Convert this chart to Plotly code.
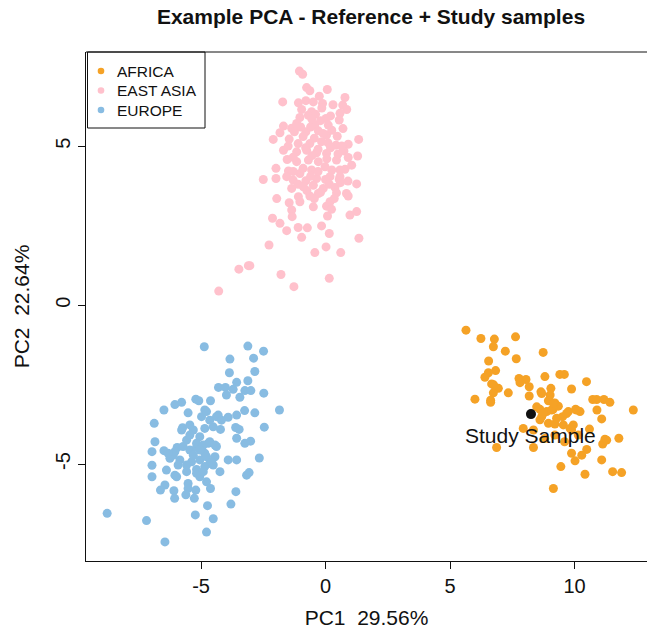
import plotly.graph_objects as go

# ---------------- data ----------------
africa_x = [5.64, 6.24, 6.78, 7.63, 6.74, 7.22, 8.74, 7.66, 6.55, 6.83, 6.54, 6.40, 7.77, 8.05, 8.81,
            9.41, 9.59, 10.48, 6.67, 6.94, 6.74, 7.34, 7.81, 8.18, 8.65, 9.05, 9.88, 8.18, 9.02, 6.00,
            6.63, 8.95, 9.21, 9.35, 10.73, 10.89, 11.18, 11.42, 12.36, 8.61, 8.88, 9.14, 9.52, 9.75,
            10.04, 10.22, 11.09, 8.68, 8.95, 9.21, 9.55, 9.95, 9.88, 10.15, 7.94, 8.35, 9.21, 11.22,
            11.78, 11.13, 6.87, 8.35, 10.49, 9.88, 10.29, 10.02, 11.09, 9.45, 11.53, 11.89, 10.42,
            9.15, 8.74, 9.08, 8.48, 9.68, 8.61, 9.28, 9.82, 11.29, 10.60, 9.60, 8.80, 10.90, 6.75,
            6.63, 8.68, 9.15, 10.08]
africa_y = [-0.79, -1.05, -1.07, -1.00, -1.31, -1.45, -1.49, -1.69, -1.76, -2.06, -2.13, -2.27, -2.31,
            -2.34, -2.25, -2.18, -2.18, -2.41, -2.48, -2.62, -2.76, -2.76, -2.44, -2.57, -2.73, -2.62,
            -2.64, -2.86, -2.83, -2.96, -2.99, -3.01, -3.08, -3.18, -2.97, -2.97, -2.97, -3.06, -3.30,
            -3.28, -3.35, -3.28, -3.51, -3.35, -3.28, -3.35, -3.58, -3.51, -3.72, -3.74, -3.77, -3.77,
            -3.93, -4.09, -3.88, -3.93, -4.09, -4.22, -4.19, -4.37, -4.48, -4.48, -4.54, -4.66, -4.72,
            -4.90, -4.87, -5.08, -5.24, -5.27, -5.32, -5.77, -3.41, -3.30, -3.20, -3.41, -3.61, -3.56,
            -3.88, -4.25, -3.90, -4.30, -4.20, -3.30, -2.51, -3.06, -2.78, -3.09, -3.30]

east_asia_x = [-1.05, -0.92, -0.76, -0.63, 0.07, -0.25, 0.78, -1.72, -1.09, -0.79, -0.49, -0.12, 0.69,
               0.85, -0.96, -0.56, 0.58, -1.03, -0.69, 0.02, 0.55, -1.69, -1.36, -1.16, -0.43, 0.11,
               -1.83, -1.46, -2.10, -0.79, -0.29, 0.04, 0.47, 1.33, 0.91, -1.10, -0.63, -0.16, -1.69,
               0.42, 0.74, -1.16, -0.76, -0.36, 0.04, 1.29, 0.91, 0.44, -1.54, -1.16, -0.69, -0.29,
               -1.99, -1.49, -1.03, -0.56, -0.02, 0.58, 0.78, -2.50, -1.99, -1.56, -1.30, -0.79, -0.36,
               0.18, 0.58, -1.36, -0.89, -0.49, -0.09, 0.38, 1.25, 0.44, 0.84, 0.91, -1.96, -1.09,
               -0.63, -0.29, -1.46, -1.03, -0.49, 0.04, 0.18, 0.24, -1.36, -1.34, -2.13, -1.83, -1.56,
               -1.10, -0.73, -0.96, -0.16, 0.15, 0.08, 0.98, 1.25, 1.34, -2.27, 0.02, -0.43, 0.61,
               -3.48, -3.10, -3.04, -1.79, 0.15, -1.27, -4.29,
               -0.40, -0.20, 0.20, -0.60, -0.10, 0.25, -0.90, -0.45, 0.10, -0.80, -0.30, 0.20, -0.55,
               0.05, 0.50, -1.30, -0.90, -0.30, 0.25, -0.60, 0.00, -1.10, 0.60, -0.20, 0.15, -0.75,
               0.35, -0.45, 0.55, -0.15, 0.30, -0.55, -1.25, 0.70, 0.65, -1.00, -1.50, -1.30, 1.05,
               0.90]
east_asia_y = [7.36, 7.26, 6.84, 6.74, 6.78, 6.57, 6.53, 6.39, 6.36, 6.43, 6.39, 6.34, 6.29, 6.15, 6.15,
               6.08, 6.03, 5.90, 5.97, 5.87, 5.82, 5.63, 5.56, 5.71, 5.66, 5.66, 5.42, 5.22, 5.21, 5.45,
               5.48, 5.35, 5.31, 5.21, 5.06, 5.08, 5.08, 5.14, 4.87, 5.03, 4.85, 4.82, 4.87, 4.79, 4.77,
               4.69, 4.64, 4.56, 4.58, 4.51, 4.56, 4.51, 4.30, 4.22, 4.14, 4.25, 4.35, 4.25, 4.27, 3.95,
               3.98, 4.04, 3.93, 3.91, 3.98, 4.04, 4.04, 3.67, 3.72, 3.77, 3.67, 3.70, 3.81, 3.53, 3.51,
               3.43, 3.35, 3.41, 3.43, 3.51, 3.22, 3.25, 3.09, 3.11, 3.25, 3.01, 2.99, 2.78, 2.73, 2.57,
               2.34, 2.44, 2.43, 2.13, 2.49, 2.25, 2.80, 2.83, 2.94, 2.10, 1.89, 1.83, 1.65, 1.65, 1.13,
               1.24, 1.24, 0.96, 0.84, 0.58, 0.44,
               6.00, 5.80, 5.95, 5.60, 5.40, 5.50, 5.30, 5.25, 5.10, 4.95, 4.90, 4.95, 4.70, 4.60, 4.75,
               4.65, 4.30, 4.20, 4.25, 4.05, 3.95, 3.80, 3.85, 3.55, 3.80, 3.60, 3.35, 3.35, 3.95, 6.20,
               6.30, 5.85, 5.45, 5.55, 5.00, 5.60, 5.00, 4.20, 4.40, 3.90]

europe_x = [-4.87, -3.12, -2.49, -3.84, -2.89, -3.86, -2.84, -3.57, -3.12, -4.30, -4.02, -3.71, -3.98,
            -3.24, -3.00, -3.44, -2.48, -1.85, -6.05, -5.78, -5.21, -5.09, -4.62, -6.49, -5.52, -4.85,
            -4.31, -3.91, -3.57, -3.25, -2.84, -6.88, -5.74, -5.31, -4.85, -4.51, -4.22, -3.61, -3.47,
            -2.46, -6.85, -5.58, -5.05, -4.71, -4.38, -3.57, -3.24, -3.01, -6.97, -6.49, -5.96, -5.45,
            -5.18, -4.85, -4.44, -6.25, -5.85, -5.38, -5.05, -4.65, -3.91, -3.57, -2.66, -6.97, -6.39,
            -6.05, -5.58, -5.18, -4.85, -4.51, -4.24, -6.97, -6.45, -5.98, -5.52, -5.05, -4.78, -3.17,
            -3.07, -6.63, -6.09, -5.52, -5.21, -4.62, -3.60, -6.06, -5.61, -5.27, -4.74, -3.80, -8.77,
            -7.19, -5.23, -4.51, -4.78, -6.45,
            -5.78, -5.45, -5.18, -4.91, -4.65, -4.44, -5.31, -5.05, -4.78, -4.58, -5.72, -6.05, -5.92,
            -5.58, -5.18, -4.91, -4.65, -4.98, -4.78, -4.38, -4.18, -5.45, -6.12, -6.32]
europe_y = [-1.31, -1.29, -1.45, -1.70, -1.67, -2.13, -2.09, -2.43, -2.38, -2.59, -2.59, -2.65, -2.83,
            -2.69, -2.69, -2.90, -2.77, -3.30, -3.13, -3.06, -2.96, -3.01, -3.01, -3.30, -3.39, -3.30,
            -3.46, -3.53, -3.46, -3.32, -3.39, -3.72, -3.86, -3.93, -3.88, -3.83, -3.91, -3.85, -3.91,
            -3.84, -4.30, -4.25, -4.14, -4.35, -4.45, -4.19, -4.35, -4.28, -4.61, -4.58, -4.48, -4.56,
            -4.48, -4.66, -4.77, -4.82, -4.87, -4.93, -4.87, -4.98, -4.87, -4.87, -4.81, -5.04, -5.19,
            -5.35, -5.24, -5.17, -5.08, -5.03, -5.24, -5.40, -5.66, -5.40, -5.61, -5.40, -5.56, -5.35,
            -5.27, -5.82, -5.84, -5.77, -5.82, -5.77, -5.87, -6.08, -5.97, -6.08, -6.31, -6.26, -6.55,
            -6.78, -6.60, -6.72, -7.14, -7.45,
            -3.93, -4.09, -4.35, -4.40, -4.30, -4.40, -4.72, -4.56, -4.77, -4.93, -4.45, -4.61, -5.03,
            -5.03, -5.29, -5.24, -3.62, -3.51, -3.35, -3.51, -3.62, -3.77, -4.72, -4.66]

study_x = [8.25]
study_y = [-3.43]
study_label = ["Study Sample"]

groups = ["AFRICA", "EAST ASIA", "EUROPE"]
colors = {"AFRICA": "#F5A226", "EAST ASIA": "#FFC1CC", "EUROPE": "#88BCE2"}

xticks = [-5, 0, 5, 10]
yticks = [-5, 0, 5]

FONT = "Liberation Sans, Arial, Helvetica, sans-serif"
INK = "#111111"

# plot-area geometry (pixels) used to place the legend box in paper units
W, H = 647, 631
ML, MR, MT, MB = 86, 0, 52, 70
PW, PH = W - ML - MR, H - MT - MB


def px_x(p):
    return (p - ML) / PW


def px_y(p):
    return (H - MB - p) / PH


fig = go.Figure()
for name, xs, ys in [("AFRICA", africa_x, africa_y),
                     ("EAST ASIA", east_asia_x, east_asia_y),
                     ("EUROPE", europe_x, europe_y)]:
    fig.add_trace(go.Scatter(x=xs, y=ys, mode="markers", name=name, showlegend=False,
                             marker=dict(color=colors[name], size=9, line=dict(width=0))))

fig.add_trace(go.Scatter(x=study_x, y=study_y, mode="markers", showlegend=False,
                         marker=dict(color=INK, size=10, line=dict(width=0))))
fig.add_annotation(x=study_x[0], y=study_y[0], text=study_label[0], showarrow=False,
                   yshift=-21, font=dict(size=21, color=INK, family=FONT))

# legend (R-style boxed legend at top-left)
fig.add_shape(type="rect", xref="paper", yref="paper",
              x0=px_x(87.5), x1=px_x(205), y0=px_y(128), y1=1,
              line=dict(color=INK, width=1), fillcolor="white", layer="above")
for i, g in enumerate(groups):
    yy = px_y(71 + 19.5 * i)
    fig.add_shape(type="circle", xref="paper", yref="paper",
                  xsizemode="pixel", ysizemode="pixel",
                  xanchor=px_x(101), yanchor=yy, x0=-3.3, x1=3.3, y0=-3.3, y1=3.3,
                  line=dict(width=0), fillcolor=colors[g], layer="above")
    fig.add_annotation(xref="paper", yref="paper", x=px_x(115), y=yy, text=g,
                       showarrow=False, xanchor="left", yanchor="middle",
                       font=dict(size=15.5, family=FONT, color=INK))

fig.update_layout(
    width=W, height=H,
    margin=dict(l=ML, r=MR, t=MT, b=MB),
    paper_bgcolor="white", plot_bgcolor="white",
    font=dict(family=FONT, color=INK),
    title=dict(text="<b>Example PCA - Reference + Study samples</b>",
               x=371 / W, xref="container", xanchor="center",
               y=1 - 17 / H, yref="container", yanchor="middle",
               font=dict(size=21, family=FONT, color=INK)),
    showlegend=False,
)

fig.update_xaxes(range=[-9.62, 12.91], tickvals=xticks, ticktext=[str(v) for v in xticks],
                 showgrid=False, zeroline=False, showline=True, linecolor=INK, linewidth=1,
                 ticks="outside", ticklen=7, tickcolor=INK,
                 tickfont=dict(size=20, family=FONT, color=INK),
                 title=dict(text="PC1  29.56%", font=dict(size=21, family=FONT, color=INK),
                            standoff=14))
fig.update_yaxes(range=[-8.05, 7.96], tickvals=yticks, ticktext=[str(v) for v in yticks],
                 showgrid=False, zeroline=False, showline=True, linecolor=INK, linewidth=1,
                 ticks="outside", ticklen=7, tickcolor=INK, tickangle=-90,
                 tickfont=dict(size=20, family=FONT, color=INK),
                 title=dict(text="PC2  22.64%", font=dict(size=21, family=FONT, color=INK),
                            standoff=16))

# top border of the plot box (the box extends beyond the right edge)
fig.add_shape(type="line", xref="paper", yref="paper", x0=0, x1=1, y0=1, y1=1,
              line=dict(color=INK, width=1))

fig.write_html("out.html")
